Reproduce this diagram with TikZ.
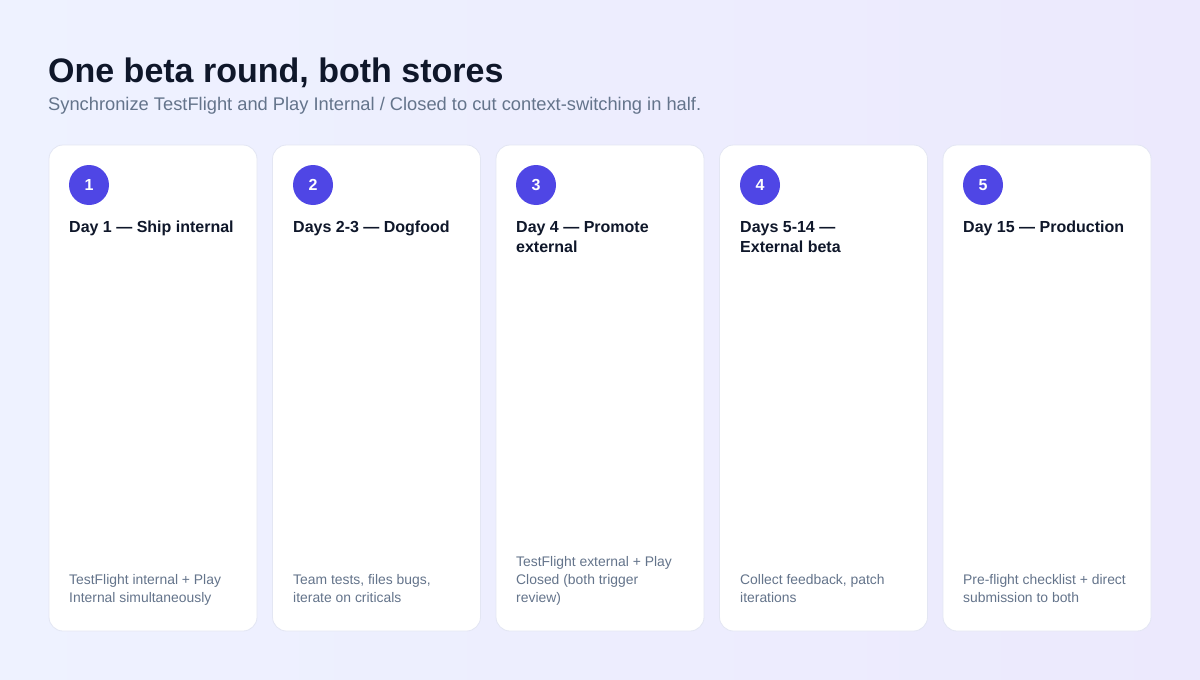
\documentclass[tikz,border=0pt]{standalone}
\usepackage{fontspec}
\setmainfont{Liberation Sans}
\usetikzlibrary{positioning}
\definecolor{ink}{HTML}{0F172A}
\definecolor{muted}{HTML}{64748B}
\definecolor{accent}{HTML}{4F46E5}
\definecolor{edge}{HTML}{E3E6F3}
\definecolor{bgA}{HTML}{EEF2FF}
\definecolor{bgB}{HTML}{ECE9FD}
\newcommand{\cardw}{208pt}
\newcommand{\cardh}{486pt}

\tikzset{
  card/.style={draw=edge, fill=white, line width=0.8pt, rounded corners=14pt,
    minimum width=\cardw, minimum height=\cardh, inner sep=0pt},
  badge/.style={circle, fill=accent, minimum size=40pt, inner sep=0pt,
    text=white, font=\fontsize{16}{16}\selectfont\bfseries},
  head/.style={anchor=base west, inner sep=0pt, text=ink, align=left,
    font=\fontsize{16}{20}\selectfont\bfseries},
  note/.style={anchor=base west, inner sep=0pt, text=muted, align=left,
    font=\fontsize{13.9}{18}\selectfont},
}

\begin{document}
\begin{tikzpicture}[x=1pt,y=-1pt]
\shade[shading=axis, shading angle=-60, left color=bgA, right color=bgB] (0,0) rectangle (1200,680);
\useasboundingbox (0,0) rectangle (1200,680);

\node[anchor=base west, inner sep=0pt, text=ink, font=\fontsize{34}{34}\selectfont\bfseries] (title) at (48,82) {One beta round, both stores};
\node[anchor=base west, inner sep=0pt, text=muted, font=\fontsize{18.3}{20}\selectfont] (sub) at (48,110) {Synchronize TestFlight and Play Internal / Closed to cut context-switching in half.};

%1
\node[card] (c1) at (153,388) {};
\node[badge] (b1) at (89,185) {1};
\node[head] (h1) at (69,232) {Day 1 — Ship internal};
\node[note] (n1) at (69,602) {TestFlight internal + Play\\Internal simultaneously};
%2
\node[card] (c2) at (376.5,388) {};
\node[badge] (b2) at (313,185) {2};
\node[head] (h2) at (293,232) {Days 2-3 — Dogfood};
\node[note] (n2) at (293,602) {Team tests, files bugs,\\iterate on criticals};
%3
\node[card] (c3) at (600,388) {};
\node[badge] (b3) at (536,185) {3};
\node[head] (h3) at (516,252) {Day 4 — Promote\\external};
\node[note] (n3) at (516,602) {TestFlight external + Play\\Closed (both trigger\\review)};
%4
\node[card] (c4) at (823.5,388) {};
\node[badge] (b4) at (760,185) {4};
\node[head] (h4) at (740,252) {Days 5-14 —\\External beta};
\node[note] (n4) at (740,602) {Collect feedback, patch\\iterations};
%5
\node[card] (c5) at (1047,388) {};
\node[badge] (b5) at (983,185) {5};
\node[head] (h5) at (963,232) {Day 15 — Production};
\node[note] (n5) at (963,602) {Pre-flight checklist + direct\\submission to both};
\end{tikzpicture}
\end{document}
